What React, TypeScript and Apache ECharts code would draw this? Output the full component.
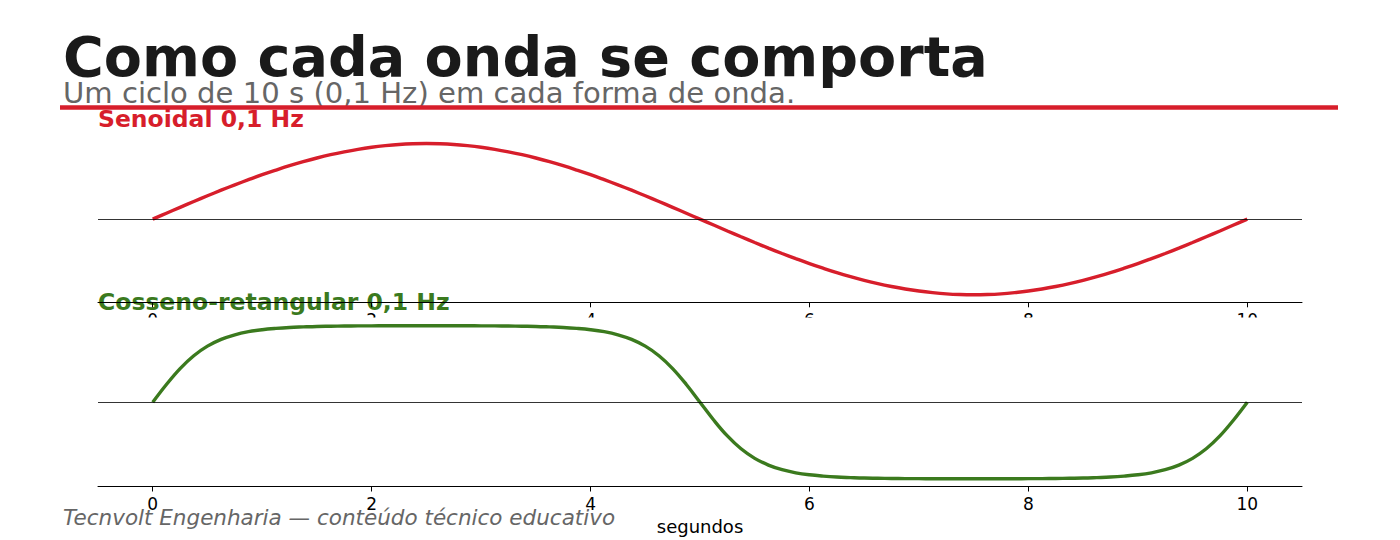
import React, { useEffect, useRef } from "react";
import * as echarts from "echarts";

// time axis (seconds)
const seconds = [
  0, 0.125, 0.25, 0.375, 0.5, 0.625, 0.75, 0.875, 1, 1.125, 1.25, 1.375, 1.5, 1.625, 1.75, 1.875,
  2, 2.125, 2.25, 2.375, 2.5, 2.625, 2.75, 2.875, 3, 3.125, 3.25, 3.375, 3.5, 3.625, 3.75, 3.875,
  4, 4.125, 4.25, 4.375, 4.5, 4.625, 4.75, 4.875, 5, 5.125, 5.25, 5.375, 5.5, 5.625, 5.75, 5.875,
  6, 6.125, 6.25, 6.375, 6.5, 6.625, 6.75, 6.875, 7, 7.125, 7.25, 7.375, 7.5, 7.625, 7.75, 7.875,
  8, 8.125, 8.25, 8.375, 8.5, 8.625, 8.75, 8.875, 9, 9.125, 9.25, 9.375, 9.5, 9.625, 9.75, 9.875, 10,
];

// sinusoidal wave
const sineValues = [
  0, 0.078, 0.156, 0.233, 0.309, 0.383, 0.454, 0.522, 0.588, 0.649, 0.707, 0.76, 0.809, 0.853, 0.891, 0.924,
  0.951, 0.972, 0.988, 0.997, 1.0, 0.997, 0.988, 0.972, 0.951, 0.924, 0.891, 0.853, 0.809, 0.76, 0.707, 0.649,
  0.588, 0.522, 0.454, 0.383, 0.309, 0.233, 0.156, 0.078, 0, -0.078, -0.156, -0.233, -0.309, -0.383, -0.454, -0.522,
  -0.588, -0.649, -0.707, -0.76, -0.809, -0.853, -0.891, -0.924, -0.951, -0.972, -0.988, -0.997, -1.0, -0.997, -0.988, -0.972,
  -0.951, -0.924, -0.891, -0.853, -0.809, -0.76, -0.707, -0.649, -0.588, -0.522, -0.454, -0.383, -0.309, -0.233, -0.156, -0.078, 0,
];

// rectangular-cosine wave
const rectValues = [
  0, 0.231, 0.438, 0.605, 0.729, 0.817, 0.877, 0.917, 0.943, 0.96, 0.972, 0.979, 0.985, 0.988, 0.991, 0.992,
  0.993, 0.994, 0.995, 0.995, 0.995, 0.995, 0.995, 0.994, 0.993, 0.992, 0.991, 0.988, 0.985, 0.979, 0.972, 0.96,
  0.943, 0.917, 0.877, 0.817, 0.729, 0.605, 0.438, 0.231, 0, -0.231, -0.438, -0.605, -0.729, -0.817, -0.877, -0.917,
  -0.943, -0.96, -0.972, -0.979, -0.985, -0.988, -0.991, -0.992, -0.993, -0.994, -0.995, -0.995, -0.995, -0.995, -0.995, -0.994,
  -0.993, -0.992, -0.991, -0.988, -0.985, -0.979, -0.972, -0.96, -0.943, -0.917, -0.877, -0.817, -0.729, -0.605, -0.438, -0.231, 0,
];

const tickValues = [0, 2, 4, 6, 8, 10];

const titleText = "Como cada onda se comporta";
const subtitleText = "Um ciclo de 10 s (0,1 Hz) em cada forma de onda.";
const panel1Title = "Senoidal 0,1 Hz";
const panel2Title = "Cosseno-retangular 0,1 Hz";
const footerText = "Tecnvolt Engenharia — conteúdo técnico educativo";
const xName = "segundos";

const FONT = "'DejaVu Sans', sans-serif";
const RED = "#d71e2b";
const GREEN = "#3b7a1e";

function makeXAxis(gridIndex: number, z: number) {
  return {
    type: "value",
    gridIndex,
    min: -0.5,
    max: 10.5,
    z,
    axisLine: { show: true, onZero: false, lineStyle: { color: "#000", width: 1 } },
    axisTick: {
      show: true,
      inside: false,
      length: 5,
      customValues: tickValues,
      lineStyle: { color: "#000", width: 1 },
    },
    axisLabel: {
      show: true,
      customValues: tickValues,
      fontSize: 17,
      fontFamily: FONT,
      color: "#000",
      margin: 9,
    },
    splitLine: { show: false },
  };
}

function zeroLine() {
  return {
    silent: true,
    symbol: ["none", "none"],
    label: { show: false },
    lineStyle: { color: "#000", width: 0.8, type: "solid" },
    emphasis: { disabled: true },
    data: [{ yAxis: 0 }],
  };
}

export default function App() {
  const ref = useRef<HTMLDivElement>(null);

  useEffect(() => {
    if (!ref.current) return;
    const chart = echarts.init(ref.current, null, { renderer: "svg" });
    const option: any = {
      animation: false,
      backgroundColor: "#ffffff",
      grid: [
        { left: 98, width: 1204, top: 136, height: 166.3 },
        { left: 98, width: 1204, top: 318, height: 168.5 },
      ],
      xAxis: [makeXAxis(0, 1), makeXAxis(1, 3)],
      yAxis: [
        { type: "value", gridIndex: 0, min: -1.1, max: 1.1, show: false },
        { type: "value", gridIndex: 1, min: -1.095, max: 1.095, show: false },
      ],
      series: [
        {
          type: "line",
          name: panel1Title,
          xAxisIndex: 0,
          yAxisIndex: 0,
          z: 3,
          data: seconds.map((t, i) => [t, sineValues[i]]),
          symbol: "none",
          showSymbol: false,
          smooth: 0.4,
          lineStyle: { color: RED, width: 3.4 },
          markLine: zeroLine(),
        },
        {
          type: "line",
          name: panel2Title,
          xAxisIndex: 1,
          yAxisIndex: 1,
          z: 3,
          data: seconds.map((t, i) => [t, rectValues[i]]),
          symbol: "none",
          showSymbol: false,
          smooth: 0.4,
          lineStyle: { color: GREEN, width: 3.4 },
          markLine: zeroLine(),
        },
      ],
      graphic: [
        {
          type: "text",
          x: 63,
          y: 56,
          z: 5,
          style: {
            text: titleText,
            fontSize: 55.6,
            fontWeight: "bold",
            fontFamily: FONT,
            fill: "#1a1a1a",
            align: "left",
            verticalAlign: "middle",
          },
        },
        {
          type: "text",
          x: 63,
          y: 93,
          z: 5,
          style: {
            text: subtitleText,
            fontSize: 29.1,
            fontFamily: FONT,
            fill: "#666666",
            align: "left",
            verticalAlign: "middle",
          },
        },
        {
          type: "line",
          z: 6,
          shape: { x1: 60, y1: 107.5, x2: 1338, y2: 107.5 },
          style: { stroke: RED, lineWidth: 4.5 },
        },
        {
          type: "text",
          x: 98,
          y: 118.5,
          z: 5,
          style: {
            text: panel1Title,
            fontSize: 23.5,
            fontWeight: "bold",
            fontFamily: FONT,
            fill: RED,
            align: "left",
            verticalAlign: "middle",
          },
        },
        {
          type: "rect",
          z: 2,
          shape: { x: 98, y: 317.5, width: 1204, height: 168 },
          style: { fill: "#ffffff" },
        },
        {
          type: "text",
          x: 98,
          y: 301.8,
          z: 0,
          style: {
            text: panel2Title,
            fontSize: 23.5,
            fontWeight: "bold",
            fontFamily: FONT,
            fill: GREEN,
            align: "left",
            verticalAlign: "middle",
          },
        },
        {
          type: "text",
          x: 700,
          y: 526.5,
          z: 5,
          style: {
            text: xName,
            fontSize: 18,
            fontFamily: FONT,
            fill: "#000",
            align: "center",
            verticalAlign: "middle",
          },
        },
        {
          type: "text",
          x: 63,
          y: 517.6,
          z: 5,
          style: {
            text: footerText,
            fontSize: 21.5,
            fontStyle: "italic",
            fontFamily: FONT,
            fill: "#666666",
            align: "left",
            verticalAlign: "middle",
          },
        },
      ],
    };
    chart.setOption(option);
    return () => chart.dispose();
  }, []);

  return (
    <div
      ref={ref}
      style={{ position: "fixed", left: 0, top: 0, width: 1400, height: 540 }}
    />
  );
}
